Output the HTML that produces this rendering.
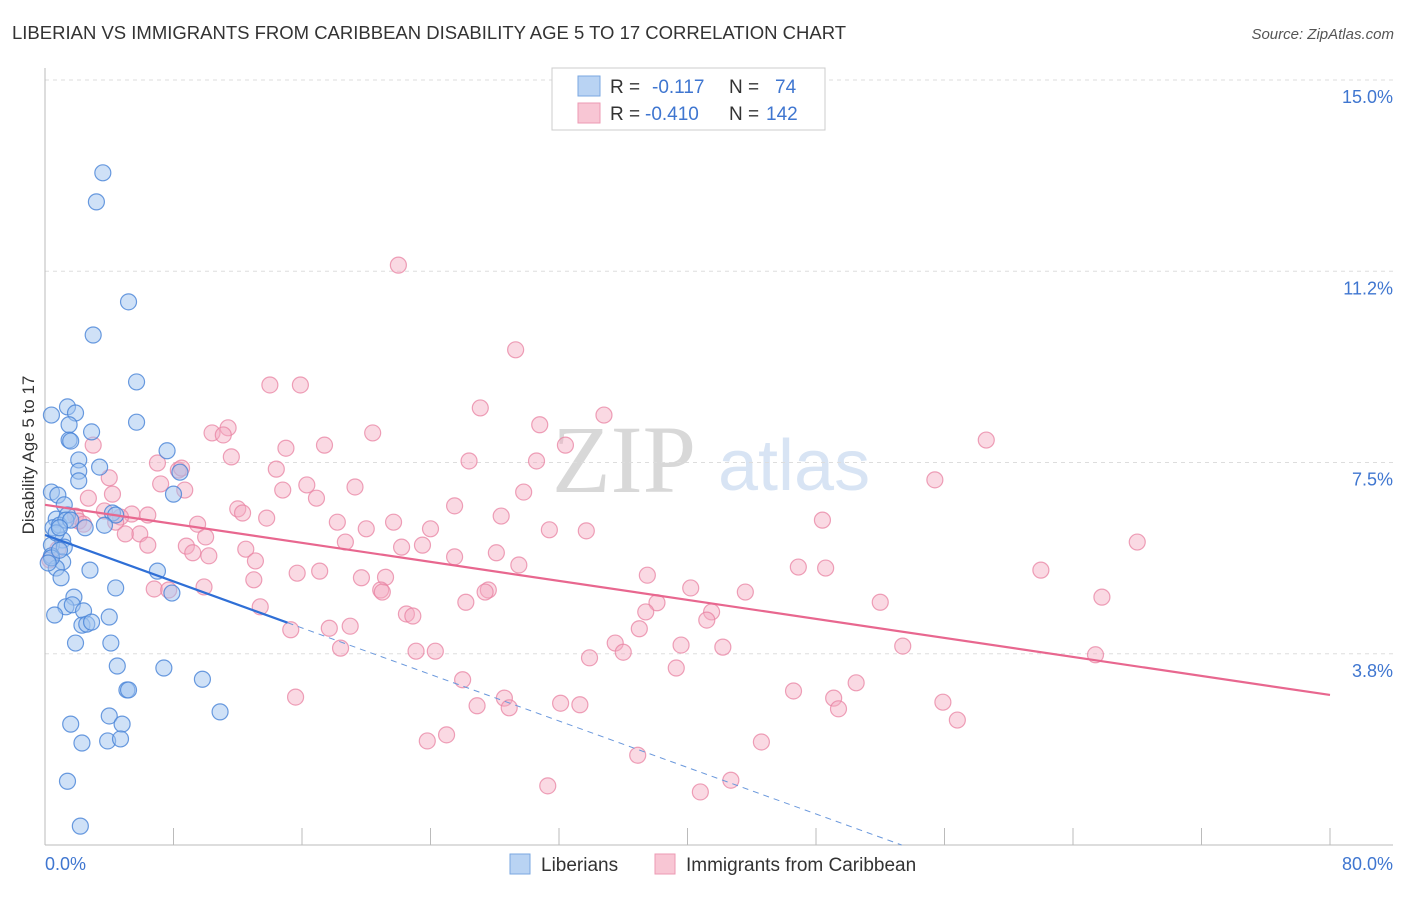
<!DOCTYPE html>
<html><head><meta charset="utf-8">
<style>
body{margin:0;background:#fff;font-family:"Liberation Sans",sans-serif;}
svg text{font-family:"Liberation Sans",sans-serif;}
</style></head>
<body>
<svg id="chart" width="1406" height="892" xmlns="http://www.w3.org/2000/svg">
<text x="12" y="39" font-size="18.5" fill="#333">LIBERIAN VS IMMIGRANTS FROM CARIBBEAN DISABILITY AGE 5 TO 17 CORRELATION CHART</text>
<text x="1394" y="39" font-size="15" fill="#555" text-anchor="end" font-style="italic">Source: ZipAtlas.com</text>
<g>
<text x="552" y="492" font-size="96" fill="#d8d8d8" style="font-family:'Liberation Serif',serif">ZIP</text>
<text x="718" y="490" font-size="72" fill="#c8daf0" opacity="0.7">atlas</text>
</g>
<g id="grid"></g>
<g id="axes"></g>
<text transform="translate(34,455) rotate(-90)" font-size="17" fill="#333" text-anchor="middle">Disability Age 5 to 17</text>
<g id="pts"></g>
<g id="lines"></g>
<g>
<rect x="552" y="68" width="273" height="62" fill="#fff" stroke="#ccc"/>
<rect x="578" y="76" width="22" height="20" fill="#b9d3f3" stroke="#7aa7e0"/>
<rect x="578" y="103" width="22" height="20" fill="#f8c6d4" stroke="#ec9ab3"/>
<text x="610" y="93" font-size="19" fill="#333">R = </text><text x="652" y="93" font-size="19" fill="#3f76d0">-0.117</text>
<text x="729" y="93" font-size="19" fill="#333">N = </text><text x="775" y="93" font-size="19" fill="#3f76d0">74</text>
<text x="610" y="120" font-size="19" fill="#333">R = </text><text x="645" y="120" font-size="19" fill="#3f76d0">-0.410</text>
<text x="729" y="120" font-size="19" fill="#333">N = </text><text x="766" y="120" font-size="19" fill="#3f76d0">142</text>
</g>
<g>
<rect x="510" y="854" width="20" height="20" fill="#b9d3f3" stroke="#7aa7e0"/>
<text x="541" y="871" font-size="19" fill="#333">Liberians</text>
<rect x="655" y="854" width="20" height="20" fill="#f8c6d4" stroke="#ec9ab3"/>
<text x="686" y="871" font-size="19" fill="#333">Immigrants from Caribbean</text>
</g>
</svg>
<script>
const yTicks=[15.0,11.25,7.5,3.75];
const yTickLabels=["15.0%","11.2%","7.5%","3.8%"];
const xTickLabels=["0.0%","80.0%"];
const blueX=[3.6,3.2,5.2,3.0,5.7,5.7,1.4,1.9,0.4,1.5,1.5,1.6,2.9,7.6,2.1,3.4,2.1,8.4,2.1,8.0,0.4,0.8,1.2,4.2,4.4,0.7,1.4,3.7,2.5,0.5,0.9,1.1,0.4,1.2,0.4,1.1,0.7,2.8,7.0,1.0,4.4,7.9,1.8,1.3,1.7,0.6,2.4,4.0,2.3,2.6,2.9,1.9,4.1,4.5,7.4,9.8,5.1,5.2,4.0,10.9,1.6,4.8,2.3,3.9,4.7,1.4,2.2,0.4,0.9,0.2,0.7,1.3,1.6,0.9];
const blueY=[13.18,12.61,10.65,10.0,9.08,8.29,8.59,8.47,8.43,8.24,7.94,7.92,8.10,7.73,7.55,7.41,7.33,7.31,7.14,6.88,6.92,6.86,6.67,6.51,6.47,6.39,6.47,6.27,6.22,6.22,6.27,5.98,5.88,5.84,5.67,5.55,5.43,5.39,5.37,5.24,5.04,4.94,4.86,4.67,4.71,4.51,4.59,4.47,4.31,4.33,4.37,3.96,3.96,3.51,3.47,3.25,3.04,3.04,2.53,2.61,2.37,2.37,2.0,2.04,2.08,1.25,0.37,5.63,5.78,5.53,6.12,6.37,6.37,6.22];
const pinkX=[22.0,29.3,14.0,15.9,27.1,34.8,58.6,11.4,10.4,11.1,20.4,30.8,32.4,15.0,17.4,3.0,11.6,7.0,26.4,30.6,8.3,14.4,8.5,4.0,55.4,7.2,8.7,14.8,16.3,19.3,29.8,16.9,4.2,2.7,25.5,12.0,12.3,28.4,13.8,5.4,6.4,3.7,4.7,4.4,1.9,2.1,2.4,48.4,18.2,21.7,24.0,9.5,31.4,33.7,20.0,5.9,6.4,5.0,18.7,22.2,23.5,10.0,8.8,12.5,10.2,68.0,25.5,28.1,0.8,0.3,9.2,13.1,29.5,46.9,48.6,62.0,37.5,15.7,17.1,13.0,19.7,21.2,6.8,9.9,7.7,20.9,21.0,27.6,27.4,40.2,43.6,65.8,52.0,38.1,22.5,22.9,26.2,13.4,37.4,41.5,41.2,15.3,17.7,19.0,37.0,35.5,39.6,42.2,18.4,23.1,24.3,53.4,36.0,33.9,65.4,39.3,26.0,50.5,46.6,15.6,28.6,49.1,55.9,26.9,28.9,32.1,33.3,49.4,56.8,25.0,23.8,44.6,36.9,31.3,42.7,40.8];
const pinkY=[11.37,9.71,9.02,9.02,8.57,8.43,7.94,8.18,8.08,8.04,8.08,8.24,7.84,7.78,7.84,7.84,7.61,7.49,7.53,7.53,7.35,7.37,7.39,7.2,7.16,7.08,6.96,6.96,7.06,7.02,6.92,6.8,6.88,6.8,6.65,6.59,6.51,6.45,6.41,6.49,6.47,6.55,6.43,6.33,6.45,6.35,6.29,6.37,6.33,6.33,6.2,6.29,6.18,6.16,6.2,6.1,5.88,6.1,5.94,5.84,5.88,6.04,5.86,5.8,5.67,5.94,5.65,5.73,5.8,5.59,5.73,5.57,5.49,5.45,5.43,5.39,5.29,5.33,5.37,5.2,5.24,5.25,5.02,5.06,5.0,5.0,4.96,5.0,4.96,5.04,4.96,4.86,4.76,4.75,4.53,4.49,4.76,4.67,4.57,4.57,4.41,4.22,4.25,4.29,4.24,3.96,3.92,3.88,3.86,3.8,3.8,3.9,3.78,3.67,3.73,3.47,3.24,3.18,3.02,2.9,2.88,2.88,2.8,2.73,2.69,2.78,2.75,2.67,2.45,2.16,2.04,2.02,1.76,1.16,1.27,1.04];
const blueTrend=[6.08,-0.114];
const pinkTrend=[6.67,-0.0466];
const X0=45,X1=1330,Y0=845,YPX=51;
const xs=v=>X0+v*(X1-X0)/80;
const ys=v=>Y0-v*YPX;
const NS="http://www.w3.org/2000/svg";
function mk(tag,attrs,parent){const e=document.createElementNS(NS,tag);for(const k in attrs)e.setAttribute(k,attrs[k]);parent.appendChild(e);return e;}
const grid=document.getElementById('grid'),axes=document.getElementById('axes'),pts=document.getElementById('pts'),lines=document.getElementById('lines');
yTicks.forEach((t,i)=>{
 const l=mk('line',{x1:X0,x2:1393,y1:ys(t),y2:ys(t),stroke:'#ddd','stroke-dasharray':'4,4'},grid);
 
 
 const tx=mk('text',{x:1393,y:ys(t)+23,'font-size':18,fill:'#3f76d0','text-anchor':'end'},axes);
 tx.textContent=yTickLabels[i];
 
 
});
const ax=mk('line',{x1:X0,x2:X0,y1:68,y2:Y0,stroke:'#bbb'},axes);


const bx=mk('line',{x1:X0,x2:1393,y1:Y0,y2:Y0,stroke:'#bbb'},axes);


for(let i=0;i<=10;i++){
 const t=mk('line',{x1:xs(i*8),x2:xs(i*8),y1:828,y2:Y0,stroke:'#bbb'},axes);
 
 
}
[[0,'start',45],[80,'end',1393]].forEach((d,i)=>{
 const tx=mk('text',{x:d[2],y:870,'font-size':18,fill:'#3f76d0','text-anchor':d[1]},axes);
 tx.textContent=xTickLabels[i];
 
 
});
pinkX.forEach((x,i)=>{
 const c=mk('circle',{cx:xs(x),cy:ys(pinkY[i]),r:8,fill:'rgba(244,170,192,0.45)',stroke:'rgba(232,130,162,0.75)','stroke-width':1.2},pts);
 
 
});
blueX.forEach((x,i)=>{
 const c=mk('circle',{cx:xs(x),cy:ys(blueY[i]),r:8,fill:'rgba(160,196,240,0.5)',stroke:'rgba(70,130,215,0.8)','stroke-width':1.2},pts);
 
 
});
const pl=mk('line',{x1:xs(0),y1:ys(pinkTrend[0]),x2:xs(80),y2:ys(pinkTrend[0]+pinkTrend[1]*80),stroke:'#e8678f','stroke-width':2.2},lines);


const bmax=Math.max(...blueX)+4.2;
const bl=mk('line',{x1:xs(0),y1:ys(blueTrend[0]),x2:xs(bmax),y2:ys(blueTrend[0]+blueTrend[1]*bmax),stroke:'#2f6fd6','stroke-width':2.2},lines);


const xz=-blueTrend[0]/blueTrend[1];
const bd=mk('line',{x1:xs(bmax),y1:ys(blueTrend[0]+blueTrend[1]*bmax),x2:xs(xz),y2:ys(0),stroke:'#6a98dc','stroke-width':1,'stroke-dasharray':'6,5'},lines);


</script>
</body></html>
